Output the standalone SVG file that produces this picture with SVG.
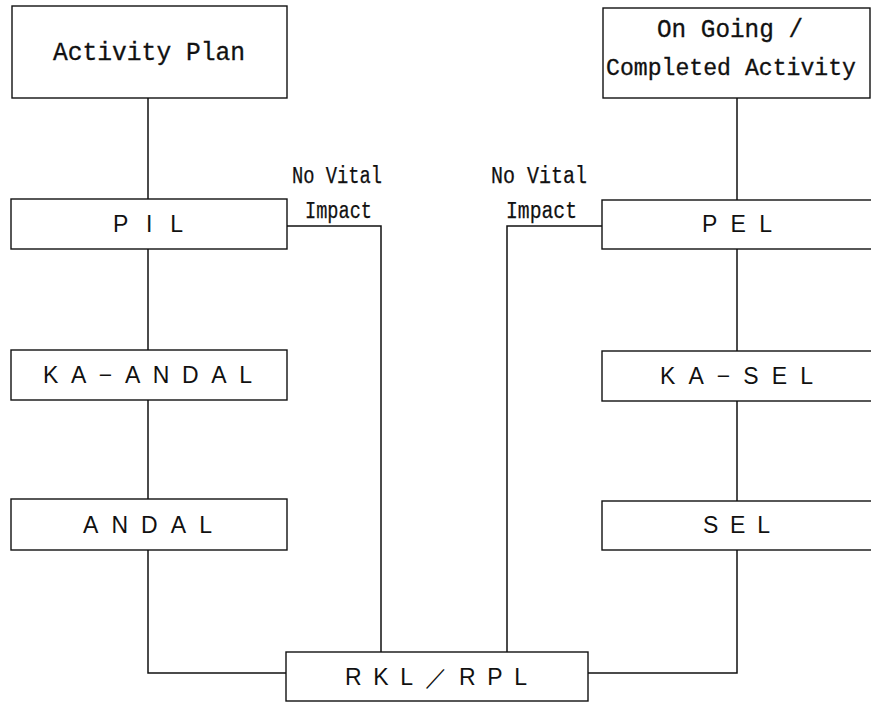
<svg xmlns="http://www.w3.org/2000/svg" width="871" height="704" viewBox="0 0 871 704">
  <style>
    .box { fill: #ffffff; stroke: #111111; stroke-width: 1.4; }
    .wire { fill: none; stroke: #111111; stroke-width: 1.5; }
    .lbl { font-family: "Liberation Sans", Arial, sans-serif; font-size: 23px; fill: #111111; }
    .mono { font-family: "Liberation Mono", "DejaVu Sans Mono", monospace; font-size: 25px; fill: #111111; stroke: #111111; stroke-width: 0.3; }
    .mono.tight { font-size: 23px; }
    .note { font-family: "Liberation Mono", "DejaVu Sans Mono", monospace; font-size: 23px; fill: #111111; stroke: #111111; stroke-width: 0.25; }
  </style>
  <rect width="871" height="704" fill="#ffffff"/>

  <!-- connectors -->
  <g id="connectors">
    <path class="wire" d="M148 98 V199 M148 249 V350 M148 400 V499 M148 550 V673 H286"/>
    <path class="wire" d="M737 98 V200 M737 249 V351 M737 401 V501 M737 550 V673 H588"/>
    <path class="wire" d="M287 226 H381 V652"/>
    <path class="wire" d="M602 226 H507 V652"/>
  </g>

  <!-- left column -->
  <g id="activity-plan">
    <rect class="box" x="12" y="6" width="275" height="92"/>
    <text class="mono" x="53" y="60" textLength="192" lengthAdjust="spacingAndGlyphs">Activity  Plan</text>
  </g>
  <g id="pil">
    <rect class="box" x="11" y="199" width="276" height="50"/>
    <text class="lbl" x="113" y="232" textLength="70" lengthAdjust="spacing">PIL</text>
  </g>
  <g id="ka-andal">
    <rect class="box" x="11" y="350" width="276" height="50"/>
    <text class="lbl" x="43" y="383" textLength="209" lengthAdjust="spacing">KA−ANDAL</text>
  </g>
  <g id="andal">
    <rect class="box" x="11" y="499" width="276" height="51"/>
    <text class="lbl" x="83" y="533" textLength="129" lengthAdjust="spacing">ANDAL</text>
  </g>

  <!-- right column -->
  <g id="ongoing-completed">
    <rect class="box" x="603" y="8" width="267" height="90"/>
    <text class="mono" x="657" y="37" textLength="146" lengthAdjust="spacingAndGlyphs">On Going  /</text>
    <text class="mono tight" x="606" y="75" textLength="250" lengthAdjust="spacingAndGlyphs">Completed Activity</text>
  </g>
  <g id="pel">
    <rect class="box" x="602" y="200" width="275" height="49"/>
    <text class="lbl" x="702" y="232" textLength="70" lengthAdjust="spacing">PEL</text>
  </g>
  <g id="ka-sel">
    <rect class="box" x="602" y="351" width="275" height="50"/>
    <text class="lbl" x="660" y="384" textLength="153" lengthAdjust="spacing">KA−SEL</text>
  </g>
  <g id="sel">
    <rect class="box" x="602" y="501" width="275" height="49"/>
    <text class="lbl" x="703" y="533" textLength="67" lengthAdjust="spacing">SEL</text>
  </g>

  <!-- bottom -->
  <g id="rkl-rpl">
    <rect class="box" x="286" y="652" width="302" height="49"/>
    <text class="lbl" x="345" y="685" textLength="182" lengthAdjust="spacing">RKL／RPL</text>
  </g>

  <!-- side notes -->
  <g id="note-left">
    <text class="note" x="292" y="183" textLength="90" lengthAdjust="spacingAndGlyphs">No Vital</text>
    <text class="note" x="305" y="218" textLength="67" lengthAdjust="spacingAndGlyphs">Impact</text>
  </g>
  <g id="note-right">
    <text class="note" x="491" y="183" textLength="96" lengthAdjust="spacingAndGlyphs">No Vital</text>
    <text class="note" x="506" y="218" textLength="71" lengthAdjust="spacingAndGlyphs">Impact</text>
  </g>
</svg>
